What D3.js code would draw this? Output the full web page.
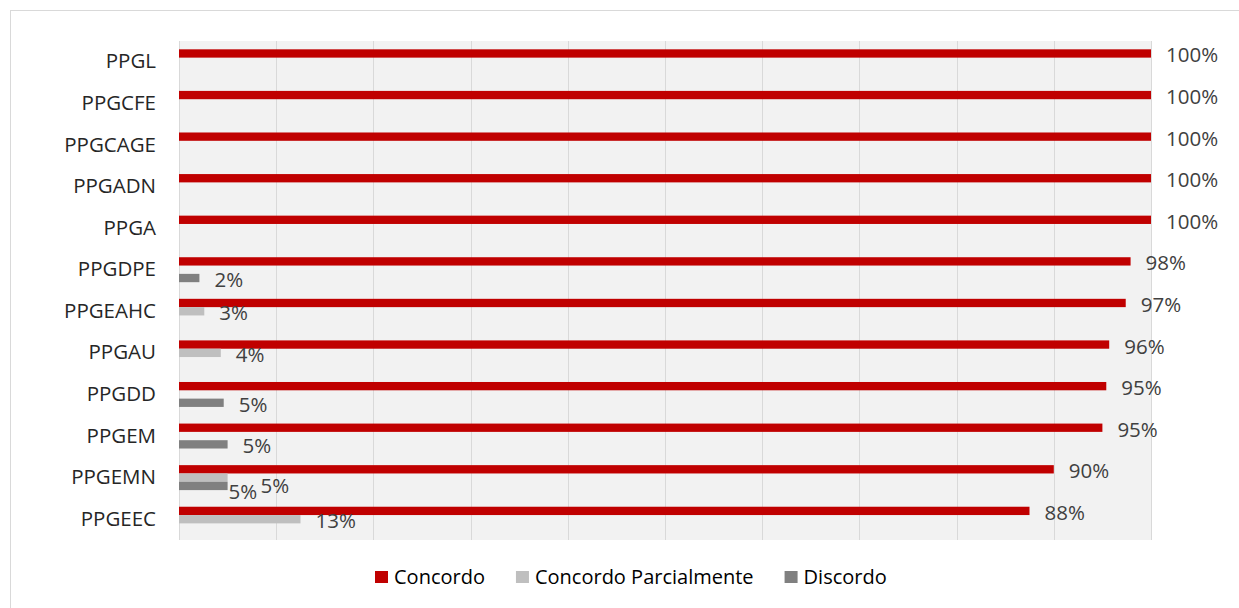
<!DOCTYPE html>
<html>
<head>
<meta charset="utf-8">
<script src="https://cdn.jsdelivr.net/npm/d3@7"></script>
<style>
  body { margin: 0; background: #fff; }
  svg { display: block; }
</style>
</head>
<body>
<div id="chart-area"></div>
<script>
// programas (top to bottom)
var categories = ["PPGL", "PPGCFE", "PPGCAGE", "PPGADN", "PPGA", "PPGDPE",
                  "PPGEAHC", "PPGAU", "PPGDD", "PPGEM", "PPGEMN", "PPGEEC"];
var seriesNames = ["Concordo", "Concordo Parcialmente", "Discordo"];
var concordo = [100, 100, 100, 100, 100, 97.9, 97.4, 95.7, 95.4, 95, 90, 87.5];
var parcial  = [0, 0, 0, 0, 0, 0, 2.6, 4.3, 0, 0, 5, 12.5];
var discordo = [0, 0, 0, 0, 0, 2.1, 0, 0, 4.6, 5, 5, 0];
var xTicks = [0, 10, 20, 30, 40, 50, 60, 70, 80, 90, 100];

var colors = ["#c00000", "#bfbfbf", "#808080"];
var values = [concordo, parcial, discordo];

var W = 1239, H = 608;
var margin = {left: 179, right: 88, top: 41, bottom: 68};
var width = W - margin.left - margin.right;
var height = H - margin.top - margin.bottom;

var svg = d3.select("#chart-area")
	.append("svg")
		.attr("width", W)
		.attr("height", H);

// chart border
svg.append("rect")
	.attr("x", 10.5).attr("y", 10.5)
	.attr("width", W).attr("height", H)
	.attr("fill", "none")
	.attr("stroke", "#d9d9d9");

var g = svg.append("g")
	.attr("transform", "translate(" + margin.left + "," + margin.top + ")");

var x = d3.scaleLinear().domain([0, 100]).range([0, width]);

var y = d3.scaleBand()
	.domain(categories)
	.range([0, height])
	.paddingInner(0.4)
	.paddingOuter(0.2);

var ys = d3.scaleBand()
	.domain(seriesNames)
	.range([0, y.bandwidth()]);

g.append("rect")
	.attr("width", width)
	.attr("height", height)
	.attr("fill", "#f2f2f2");

g.selectAll(".grid")
	.data(xTicks)
	.enter().append("line")
		.attr("class", "grid")
		.attr("x1", function(d){ return Math.round(x(d)) + 0.5; })
		.attr("x2", function(d){ return Math.round(x(d)) + 0.5; })
		.attr("y1", 0)
		.attr("y2", height)
		.attr("stroke", "#d9d9d9")
		.attr("stroke-width", 1);

// category labels
var yAxis = d3.axisLeft(y).tickSize(0).tickPadding(23);
var ax = g.append("g").call(yAxis);
ax.select(".domain").remove();
ax.selectAll("text")
	.attr("font-family", "Open Sans")
	.attr("font-size", "20.5px")
	.attr("fill", "#262626");

// bars
var rows = [];
seriesNames.forEach(function(s, si){
	categories.forEach(function(c, ci){
		var v = values[si][ci];
		if (v > 0) rows.push({cat: c, series: s, si: si, v: v});
	});
});

g.selectAll(".bar")
	.data(rows)
	.enter().append("rect")
		.attr("class", "bar")
		.attr("x", 0)
		.attr("y", function(d){ return y(d.cat) + ys(d.series); })
		.attr("width", function(d){ return x(d.v); })
		.attr("height", ys.bandwidth())
		.attr("fill", function(d){ return colors[d.si]; });

// both gray labels in one row would overlap, nudge them apart
function crowded(d){
	var ci = categories.indexOf(d.cat);
	return d.si > 0 && parcial[ci] > 0 && discordo[ci] > 0;
}

// data labels
g.selectAll(".lbl")
	.data(rows)
	.enter().append("text")
		.attr("class", "lbl")
		.attr("x", function(d){
			var dx = 15;
			if (crowded(d)) dx = d.si == 1 ? 33 : 1;
			return x(d.v) + dx;
		})
		.attr("y", function(d){
			var dy = 9;
			if (crowded(d)) dy = d.si == 1 ? 15 : 13;
			return y(d.cat) + ys(d.series) + ys.bandwidth() / 2 + dy;
		})
		.attr("font-family", "Open Sans")
		.attr("font-size", "20.5px")
		.attr("fill", "#404040")
		.text(function(d){ return Math.round(d.v) + "%"; });

// legend
var leg = svg.append("g").attr("transform", "translate(375,577)");
var lx = 0;
seriesNames.forEach(function(s, i){
	var item = leg.append("g").attr("transform", "translate(" + lx + ",0)");
	item.append("rect")
		.attr("x", 0).attr("y", -6)
		.attr("width", 13).attr("height", 12)
		.attr("fill", colors[i]);
	var t = item.append("text")
		.attr("x", 19).attr("y", 7)
		.attr("font-family", "Open Sans")
		.attr("font-size", "20px")
		.attr("fill", "#000")
		.text(s);
	lx += 19 + t.node().getComputedTextLength() + 31;
});
</script>
</body>
</html>
